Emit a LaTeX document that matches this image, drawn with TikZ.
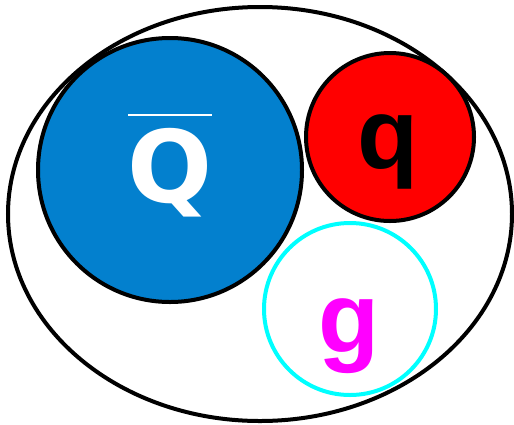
\documentclass[tikz,border=0pt]{standalone}
\usepackage{fontspec}
\usetikzlibrary{shapes.geometric}
\newfontfamily\dejabold{DejaVu Sans}
\newfontfamily\libsans{Liberation Sans}
\definecolor{qblue}{RGB}{3,128,206}
\definecolor{pcyan}{RGB}{0,255,255}
\definecolor{pmagenta}{RGB}{255,0,255}
\definecolor{pred}{RGB}{255,0,0}
\begin{document}
\begin{tikzpicture}[x=1pt,y=-1pt,
  ball/.style={circle,draw=black,line width=4pt,inner sep=0pt,minimum size=#1},
  letter/.style={anchor=base,inner sep=0pt}]
\useasboundingbox (0,0) rectangle (514,424);
\node[ellipse,draw=black,line width=4pt,minimum width=504pt,minimum height=414pt,inner sep=0pt] (outer) at (260,214) {};
\node[ball=264pt,fill=qblue] (blue) at (170,170) {};
\node[ball=168pt,fill=pred] (red) at (390,137) {};
\node[circle,draw=pcyan,line width=4pt,inner sep=0pt,minimum size=172pt,fill=white] (cyanc) at (350,309) {};
\node[letter,text=white,font=\fontsize{100}{100}\selectfont\dejabold\bfseries] (Q) at (170,202) {Q};
\coordinate (barL) at (128,115);
\coordinate (barR) at (212,115);
\draw[white,line width=2.5pt] (barL) -- (barR);
\node[letter,text=black,font=\fontsize{100}{100}\selectfont\libsans\bfseries] (q) at (388,168) {q};
\node[letter,text=pmagenta,font=\fontsize{100}{100}\selectfont\libsans\bfseries] (g) at (349,352) {g};
\end{tikzpicture}
\end{document}
